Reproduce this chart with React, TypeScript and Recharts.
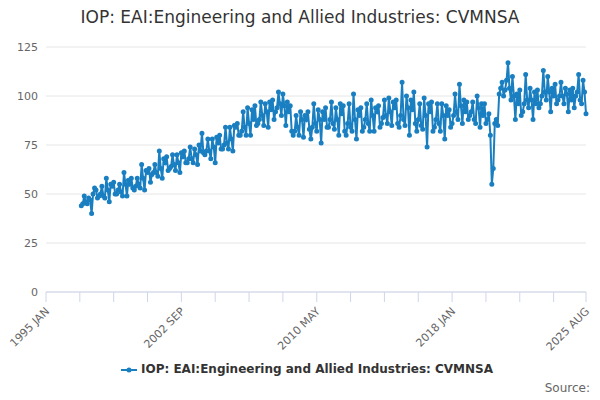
import { LineChart, Line, XAxis, YAxis, CartesianGrid, Legend } from "recharts";

const monthNames = ["JAN", "FEB", "MAR", "APR", "MAY", "JUN", "JUL", "AUG", "SEP", "OCT", "NOV", "DEC"];
const firstYear = 1997;

// monthly values by year, 1997 JAN .. 2025 AUG
const values1997 = [44, 45, 49, 46, 45, 48, 47, 40, 50, 53, 52, 48];
const values1998 = [49, 50, 54, 49, 48, 58, 52, 46, 55, 54, 56, 50];
const values1999 = [50, 52, 55, 51, 49, 61, 55, 49, 57, 55, 58, 53];
const values2000 = [52, 54, 58, 55, 53, 65, 58, 52, 62, 61, 63, 56];
const values2001 = [60, 61, 65, 61, 59, 72, 63, 58, 68, 66, 69, 62];
const values2002 = [63, 64, 70, 65, 62, 70, 66, 61, 71, 69, 72, 66];
const values2003 = [66, 68, 74, 68, 66, 73, 70, 65, 75, 72, 81, 71];
const values2004 = [70, 72, 78, 72, 68, 78, 74, 66, 79, 76, 80, 73];
const values2005 = [73, 75, 84, 76, 73, 84, 78, 72, 85, 84, 86, 80];
const values2006 = [80, 82, 92, 84, 80, 94, 86, 80, 93, 88, 95, 85];
const values2007 = [86, 88, 97, 90, 85, 96, 92, 84, 97, 93, 98, 88];
const values2008 = [92, 94, 102, 96, 90, 101, 95, 85, 97, 92, 95, 82];
const values2009 = [80, 82, 90, 84, 80, 92, 88, 79, 90, 88, 92, 83];
const values2010 = [78, 84, 96, 86, 82, 93, 88, 76, 92, 88, 94, 84];
const values2011 = [84, 88, 97, 86, 83, 94, 88, 80, 96, 91, 95, 82];
const values2012 = [80, 86, 96, 84, 82, 101, 88, 78, 93, 90, 94, 82];
const values2013 = [84, 88, 96, 86, 82, 98, 90, 82, 94, 92, 95, 84];
const values2014 = [86, 89, 98, 90, 86, 99, 92, 85, 97, 94, 98, 86];
const values2015 = [84, 90, 107, 88, 85, 100, 94, 80, 98, 93, 102, 86];
const values2016 = [82, 88, 96, 85, 83, 99, 90, 74, 96, 92, 97, 82];
const values2017 = [84, 88, 96, 86, 82, 96, 90, 78, 95, 90, 93, 84];
const values2018 = [86, 90, 101, 92, 88, 106, 95, 86, 98, 92, 97, 88];
const values2019 = [90, 92, 97, 88, 86, 100, 94, 84, 96, 90, 96, 86];
const values2020 = [88, 91, 80, 55, 63, 86, 88, 85, 101, 104, 107, 100];
const values2021 = [103, 108, 117, 104, 98, 110, 100, 88, 101, 96, 103, 90];
const values2022 = [92, 96, 111, 98, 94, 104, 98, 88, 102, 96, 103, 94];
const values2023 = [96, 100, 113, 102, 98, 110, 102, 92, 104, 100, 106, 96];
const values2024 = [98, 100, 107, 100, 96, 104, 101, 92, 103, 98, 104, 94];
const values2025 = [100, 102, 111, 98, 96, 108, 102, 91];

const allValues = [
  values1997, values1998, values1999, values2000, values2001, values2002, values2003,
  values2004, values2005, values2006, values2007, values2008, values2009, values2010,
  values2011, values2012, values2013, values2014, values2015, values2016, values2017,
  values2018, values2019, values2020, values2021, values2022, values2023, values2024,
  values2025,
].flat();

// month index counted from 1995 JAN
const xTicks = [0, 23, 46, 69, 92, 115, 138, 161, 184, 207, 230, 253, 276, 299, 322, 345, 367];
const labeledTicks = [0, 92, 184, 276, 367];
const yTicks = [0, 25, 50, 75, 100, 125];
const seriesName = "IOP: EAI:Engineering and Allied Industries: CVMNSA";

const startIndex = (firstYear - 1995) * 12;
const data = allValues.map((v, i) => ({ t: startIndex + i, value: v }));

const monthLabel = (t: number) => `${1995 + Math.floor(t / 12)} ${monthNames[t % 12]}`;

const XTick = (props: any) => {
  const { x, y, payload } = props;
  if (!labeledTicks.includes(payload.value)) return null;
  return (
    <text x={x + 4} y={y + 8} transform={`rotate(-45 ${x + 4} ${y + 8})`} textAnchor="end" fontSize={11} fill="#666">
      {monthLabel(payload.value)}
    </text>
  );
};

const LegendContent = () => (
  <div style={{ textAlign: "center", fontSize: 12, fontWeight: "bold", color: "#333", paddingLeft: 20 }}>
    <svg width={16} height={10} style={{ verticalAlign: "middle", marginRight: 4 }}>
      <line x1={0} y1={5} x2={16} y2={5} stroke="#1a7fc1" strokeWidth={2} />
      <circle cx={8} cy={5} r={2.5} fill="#1a7fc1" />
    </svg>
    {seriesName}
  </div>
);

export default function App() {
  return (
    <div style={{ position: "fixed", left: 0, top: 0, width: 600, height: 400, background: "#fff", fontFamily: "'DejaVu Sans', sans-serif" }}>
      <div style={{ position: "absolute", top: 7, width: 600, textAlign: "center", fontSize: 17, color: "#333" }}>
        {seriesName}
      </div>
      <LineChart width={600} height={400} data={data} margin={{ top: 47, right: 14, bottom: 24, left: 8 }}>
        <CartesianGrid vertical={false} stroke="#e6e6e6" />
        <XAxis
          dataKey="t"
          type="number"
          domain={[0, 367]}
          ticks={xTicks}
          interval={0}
          tick={<XTick />}
          stroke="#ccd6eb"
          tickSize={10}
          height={70}
        />
        <YAxis
          domain={[0, 125]}
          ticks={yTicks}
          axisLine={false}
          tickLine={false}
          width={38}
          tick={{ fontSize: 11, fill: "#666" }}
        />
        <Legend verticalAlign="bottom" content={<LegendContent />} />
        <Line
          dataKey="value"
          stroke="#1a7fc1"
          strokeWidth={2}
          dot={{ r: 1.5, fill: "#1a7fc1", stroke: "#1a7fc1" }}
          isAnimationActive={false}
        />
      </LineChart>
      <div style={{ position: "absolute", right: 10, top: 381, fontSize: 12, color: "#666" }}>Source:</div>
    </div>
  );
}
